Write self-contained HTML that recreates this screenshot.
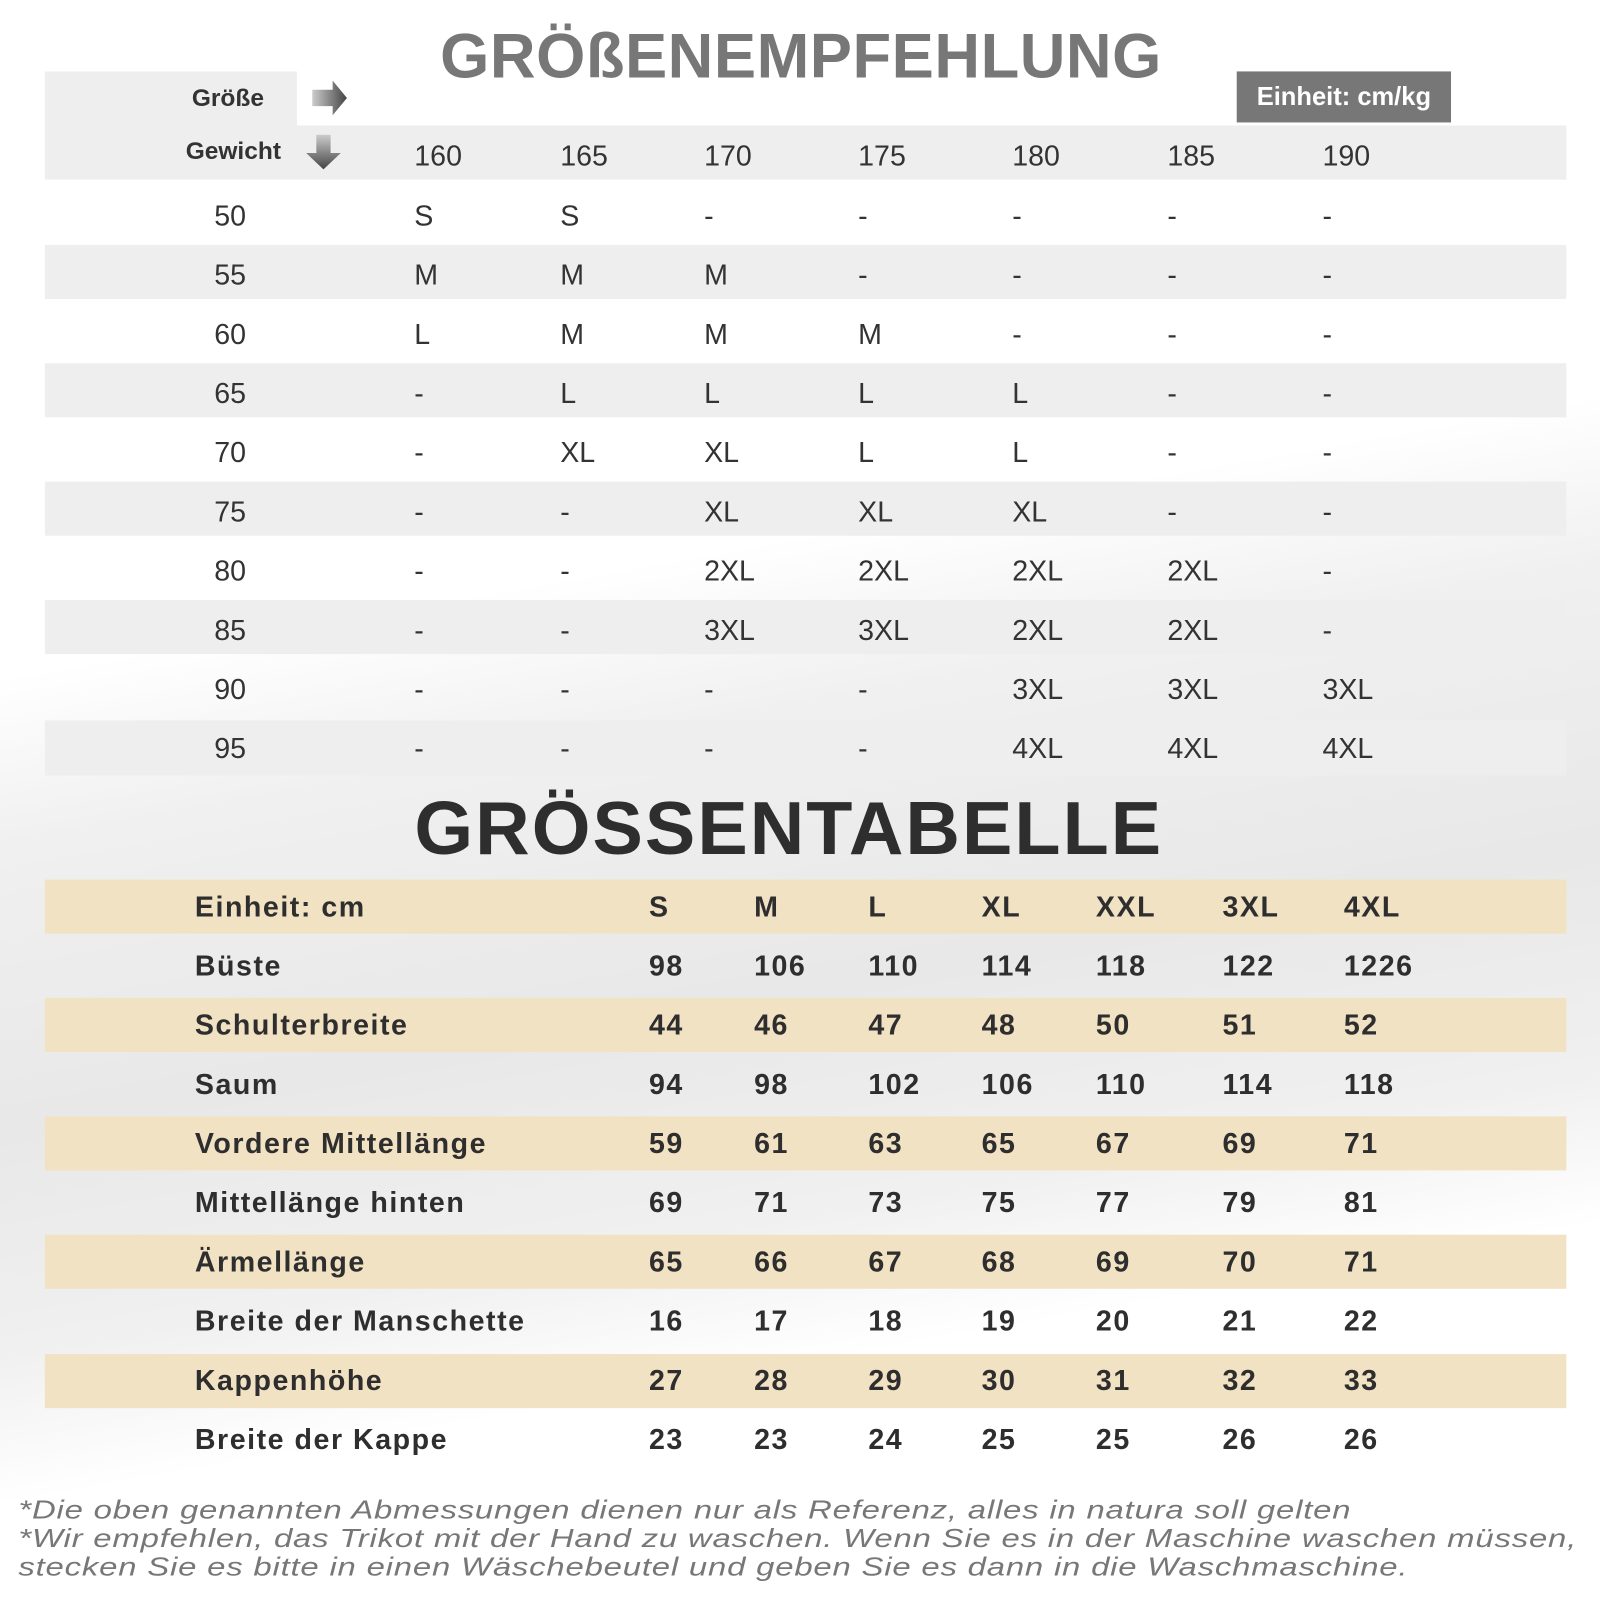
<!DOCTYPE html>
<html><head><meta charset="utf-8"><style>
html,body{margin:0;padding:0;width:1600px;height:1600px;overflow:hidden;background:#fff}
#w{position:absolute;left:0;top:0;width:1568px;height:1568px;transform:scale(1.020408);transform-origin:0 0;font-family:"Liberation Sans",sans-serif;
background:linear-gradient(170deg,#fff 0%,#fff 36%,#f0f0f0 45%,#e8e8e8 60%,#f0f0f0 72%,#fff 80%,#fff 100%)}
.a{position:absolute}
.band{position:absolute;left:44px;width:1491px;height:53px}
.g{background:#eeeeee}
.y{background:#f2e2c4}
.r{position:absolute;left:0;width:1568px;height:58px;line-height:58px;font-size:28px;color:#333}
.r span{position:absolute;top:0;white-space:nowrap}
.t2 .r{font-weight:bold;color:#2e2e2e;letter-spacing:1.5px}
.c0{left:210px}.c1{left:406px}.c2{left:549px}.c3{left:690px}.c4{left:841px}.c5{left:992px}.c6{left:1144px}.c7{left:1296px}
.d0{left:191px}.d1{left:636px}.d2{left:739px}.d3{left:851px}.d4{left:962px}.d5{left:1074px}.d6{left:1198px}.d7{left:1317px}
.fn{position:absolute;left:18px;font-size:25px;font-style:italic;color:#777;white-space:nowrap;letter-spacing:0.6px;transform:scaleX(1.29);transform-origin:0 0}
</style></head><body><div id="w">
<div class="a" style="left:0;top:20px;width:1568px;text-align:center;font-size:62px;font-weight:900;color:#777;letter-spacing:0.5px;line-height:72px;padding-left:2px;box-sizing:border-box">GRÖßENEMPFEHLUNG</div>
<div class="a" style="left:44px;top:70px;width:247px;height:53px;background:#eee"></div>
<div class="a" style="left:188px;top:80px;font-size:24px;font-weight:bold;color:#333;line-height:34px">Größe</div>
<svg class="a" style="left:304px;top:77px" width="40" height="40"><defs><linearGradient id="h" x1="0" x2="1"><stop offset="0" stop-color="#ccc"/><stop offset="1" stop-color="#444"/></linearGradient><linearGradient id="v" x1="0" y1="0" x2="0" y2="1"><stop offset="0" stop-color="#ccc"/><stop offset="1" stop-color="#444"/></linearGradient></defs><polygon points="2,11 22,11 22,2 36,19 22,36 22,27 2,27" fill="url(#h)"/></svg>
<div class="a" style="left:1212px;top:70px;width:210px;height:50px;background:#777;color:#fff;font-size:25px;font-weight:bold;line-height:50px;text-align:center">Einheit: cm/kg</div>
<div class="band g" style="top:123px"></div>
<div class="band g" style="top:240px"></div>
<div class="band g" style="top:356px"></div>
<div class="band g" style="top:472px"></div>
<div class="band g" style="top:588px"></div>
<div class="band g" style="top:706px;height:54px"></div>
<div class="a" style="left:182px;top:132px;font-size:24px;font-weight:bold;color:#333;line-height:34px">Gewicht</div>
<svg class="a" style="left:298px;top:130px" width="40" height="40"><polygon points="12,2 26,2 26,20 36,20 19,36 2,20 12,20" fill="url(#v)"/></svg>
<div class="r" style="top:124px"><span class="c1">160</span><span class="c2">165</span><span class="c3">170</span><span class="c4">175</span><span class="c5">180</span><span class="c6">185</span><span class="c7">190</span></div>
<div class="r" style="top:183px"><span class="c0">50</span><span class="c1">S</span><span class="c2">S</span><span class="c3">-</span><span class="c4">-</span><span class="c5">-</span><span class="c6">-</span><span class="c7">-</span></div>
<div class="r" style="top:241px"><span class="c0">55</span><span class="c1">M</span><span class="c2">M</span><span class="c3">M</span><span class="c4">-</span><span class="c5">-</span><span class="c6">-</span><span class="c7">-</span></div>
<div class="r" style="top:299px"><span class="c0">60</span><span class="c1">L</span><span class="c2">M</span><span class="c3">M</span><span class="c4">M</span><span class="c5">-</span><span class="c6">-</span><span class="c7">-</span></div>
<div class="r" style="top:357px"><span class="c0">65</span><span class="c1">-</span><span class="c2">L</span><span class="c3">L</span><span class="c4">L</span><span class="c5">L</span><span class="c6">-</span><span class="c7">-</span></div>
<div class="r" style="top:415px"><span class="c0">70</span><span class="c1">-</span><span class="c2">XL</span><span class="c3">XL</span><span class="c4">L</span><span class="c5">L</span><span class="c6">-</span><span class="c7">-</span></div>
<div class="r" style="top:473px"><span class="c0">75</span><span class="c1">-</span><span class="c2">-</span><span class="c3">XL</span><span class="c4">XL</span><span class="c5">XL</span><span class="c6">-</span><span class="c7">-</span></div>
<div class="r" style="top:531px"><span class="c0">80</span><span class="c1">-</span><span class="c2">-</span><span class="c3">2XL</span><span class="c4">2XL</span><span class="c5">2XL</span><span class="c6">2XL</span><span class="c7">-</span></div>
<div class="r" style="top:589px"><span class="c0">85</span><span class="c1">-</span><span class="c2">-</span><span class="c3">3XL</span><span class="c4">3XL</span><span class="c5">2XL</span><span class="c6">2XL</span><span class="c7">-</span></div>
<div class="r" style="top:647px"><span class="c0">90</span><span class="c1">-</span><span class="c2">-</span><span class="c3">-</span><span class="c4">-</span><span class="c5">3XL</span><span class="c6">3XL</span><span class="c7">3XL</span></div>
<div class="r" style="top:705px"><span class="c0">95</span><span class="c1">-</span><span class="c2">-</span><span class="c3">-</span><span class="c4">-</span><span class="c5">4XL</span><span class="c6">4XL</span><span class="c7">4XL</span></div>

<div class="a" style="left:0;top:768px;width:1568px;text-align:center;font-size:74px;font-weight:900;color:#2e2e2e;line-height:88px;letter-spacing:2px;padding-right:22px;box-sizing:border-box">GRÖSSENTABELLE</div>
<div class="band y" style="top:862px"></div>
<div class="band y" style="top:978px"></div>
<div class="band y" style="top:1094px"></div>
<div class="band y" style="top:1210px"></div>
<div class="band y" style="top:1327px"></div>
<div class="t2">
<div class="r" style="top:860px"><span class="d0">Einheit: cm</span><span class="d1">S</span><span class="d2">M</span><span class="d3">L</span><span class="d4">XL</span><span class="d5">XXL</span><span class="d6">3XL</span><span class="d7">4XL</span></div>
<div class="r" style="top:918px"><span class="d0">Büste</span><span class="d1">98</span><span class="d2">106</span><span class="d3">110</span><span class="d4">114</span><span class="d5">118</span><span class="d6">122</span><span class="d7">1226</span></div>
<div class="r" style="top:976px"><span class="d0">Schulterbreite</span><span class="d1">44</span><span class="d2">46</span><span class="d3">47</span><span class="d4">48</span><span class="d5">50</span><span class="d6">51</span><span class="d7">52</span></div>
<div class="r" style="top:1034px"><span class="d0">Saum</span><span class="d1">94</span><span class="d2">98</span><span class="d3">102</span><span class="d4">106</span><span class="d5">110</span><span class="d6">114</span><span class="d7">118</span></div>
<div class="r" style="top:1092px"><span class="d0">Vordere Mittellänge</span><span class="d1">59</span><span class="d2">61</span><span class="d3">63</span><span class="d4">65</span><span class="d5">67</span><span class="d6">69</span><span class="d7">71</span></div>
<div class="r" style="top:1150px"><span class="d0">Mittellänge hinten</span><span class="d1">69</span><span class="d2">71</span><span class="d3">73</span><span class="d4">75</span><span class="d5">77</span><span class="d6">79</span><span class="d7">81</span></div>
<div class="r" style="top:1208px"><span class="d0">Ärmellänge</span><span class="d1">65</span><span class="d2">66</span><span class="d3">67</span><span class="d4">68</span><span class="d5">69</span><span class="d6">70</span><span class="d7">71</span></div>
<div class="r" style="top:1266px"><span class="d0">Breite der Manschette</span><span class="d1">16</span><span class="d2">17</span><span class="d3">18</span><span class="d4">19</span><span class="d5">20</span><span class="d6">21</span><span class="d7">22</span></div>
<div class="r" style="top:1324px"><span class="d0">Kappenhöhe</span><span class="d1">27</span><span class="d2">28</span><span class="d3">29</span><span class="d4">30</span><span class="d5">31</span><span class="d6">32</span><span class="d7">33</span></div>
<div class="r" style="top:1382px"><span class="d0">Breite der Kappe</span><span class="d1">23</span><span class="d2">23</span><span class="d3">24</span><span class="d4">25</span><span class="d5">25</span><span class="d6">26</span><span class="d7">26</span></div>
</div>
<div class="fn" style="top:1466px">*Die oben genannten Abmessungen dienen nur als Referenz, alles in natura soll gelten</div>
<div class="fn" style="top:1494px">*Wir empfehlen, das Trikot mit der Hand zu waschen. Wenn Sie es in der Maschine waschen müssen,</div>
<div class="fn" style="top:1522px">stecken Sie es bitte in einen Wäschebeutel und geben Sie es dann in die Waschmaschine.</div>
</div></body></html>
